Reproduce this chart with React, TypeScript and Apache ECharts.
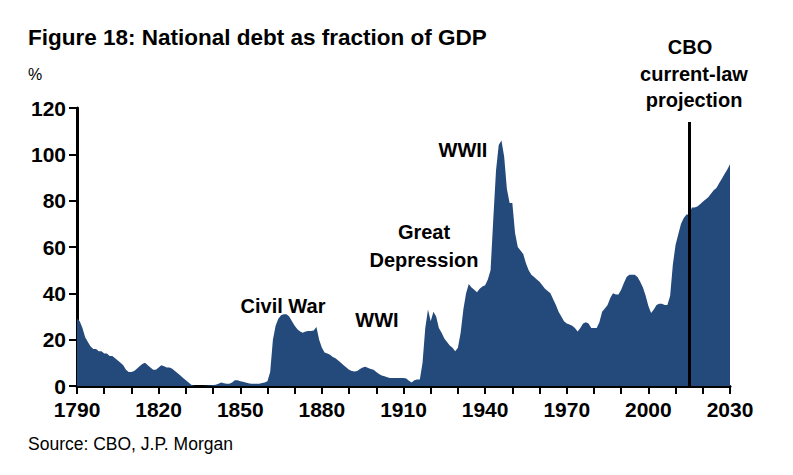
import React, { useEffect, useRef } from "react";
import * as echarts from "echarts";

const startYear = 1790;
const debtValues: number[] = [
  // 1790-1799
  29, 28, 25, 21, 19, 17, 16, 16, 15, 15,
  // 1800-1809
  14, 14, 13, 13, 12, 11, 10, 9, 7, 6,
  // 1810-1819
  6, 6.5, 7.5, 8.5, 9.5, 10, 9, 8, 7, 7,
  // 1820-1829
  8, 9, 8.5, 8, 8, 7.5, 6.5, 5.5, 4.5, 3.5,
  // 1830-1839
  2.5, 1.5, 0.5, 0.1, 0, 0, 0, 0.1, 0.2, 0.3,
  // 1840-1849
  0.4, 0.5, 1, 1.5, 1.2, 1, 1, 1.5, 2.5, 2.5,
  // 1850-1859
  2, 1.8, 1.5, 1.2, 1, 1, 1, 1, 1.3, 1.5,
  // 1860-1869
  2, 6, 20, 26, 29, 30.5, 31, 31, 30, 28,
  // 1870-1879
  26, 24.5, 23.5, 23, 23.5, 23.7, 23.7, 24, 25.5, 20,
  // 1880-1889
  16.5, 14.5, 14, 13.5, 12.5, 12, 11, 10, 9, 8,
  // 1890-1899
  7, 6.5, 6.3, 6.5, 7.3, 8, 8.3, 7.8, 7.3, 7,
  // 1900-1909
  6, 5.2, 4.5, 4.2, 3.8, 3.5, 3.4, 3.4, 3.4, 3.4,
  // 1910-1919
  3.4, 3.2, 2.3, 1.5, 2.5, 2.8, 2.8, 10, 25, 33,
  // 1920-1929
  28, 32, 30, 25, 23, 20.5, 19, 17.5, 16.5, 15,
  // 1930-1939
  16.5, 23, 33, 40, 44, 42.5, 41.5, 40.5, 42, 43,
  // 1940-1949
  43.5, 46, 50, 72, 93, 104, 106, 99, 85, 79,
  // 1950-1959
  79, 66, 60, 58.5, 57, 53, 50, 48, 47, 46,
  // 1960-1969
  45, 43.5, 42, 41, 40, 37.5, 35, 32, 30, 28,
  // 1970-1979
  27, 26.5, 26, 25, 23.5, 25, 27, 27.5, 27, 25,
  // 1980-1989
  25, 25, 27.5, 32, 33.5, 35, 38, 40, 39.5, 39.5,
  // 1990-1999
  41.5, 44.5, 47, 48, 48, 48, 47, 45, 42.5, 39,
  // 2000-2009
  34.5, 31.5, 33, 35, 35.5, 35.5, 35, 35, 39, 52.5,
  // 2010-2019
  61, 65.5, 70, 72.5, 74, 74, 77, 77, 77.5, 78.5,
  // 2020-2030
  79.5, 80.5, 81.5, 83, 84.5, 85.5, 87.5, 89.5, 91.5, 93.5, 95.7,
];
const projectionYear = 2015;
const yTicks = [0, 20, 40, 60, 80, 100, 120];
const xLabelYears = [1790, 1820, 1850, 1880, 1910, 1940, 1970, 2000, 2030];
const annotations = [
  { text: "Civil War", x: 283, y: 306 },
  { text: "WWI", x: 377, y: 320 },
  { text: "Great", x: 424, y: 232 },
  { text: "Depression", x: 424, y: 260 },
  { text: "WWII", x: 463, y: 150 },
  { text: "CBO", x: 690, y: 47 },
  { text: "current-law", x: 694, y: 74 },
  { text: "projection", x: 694, y: 100 },
];

export default function App() {
  const ref = useRef<HTMLDivElement>(null);
  useEffect(() => {
    if (!ref.current) return;
    const chart = echarts.init(ref.current, null, { renderer: "svg" });
    const seriesData = debtValues.map((v, i) => [startYear + i, v]);
    const font = "'Liberation Sans', Arial, sans-serif";
    chart.setOption({
      animation: false,
      backgroundColor: "#ffffff",
      textStyle: { fontFamily: font },
      grid: { left: 77, right: 63, top: 108, bottom: 89, containLabel: false },
      xAxis: {
        type: "value",
        min: 1790,
        max: 2030,
        interval: 10,
        axisLine: { show: true, lineStyle: { color: "#000", width: 3 } },
        axisTick: { show: true, inside: false, length: 8, lineStyle: { color: "#000", width: 2 } },
        splitLine: { show: false },
        axisLabel: {
          margin: 13,
          color: "#000",
          fontWeight: "bold",
          fontSize: 21,
          fontFamily: font,
          formatter: (v: number) => (xLabelYears.includes(v) ? String(v) : ""),
        },
      },
      yAxis: {
        type: "value",
        min: 0,
        max: 120,
        interval: 20,
        axisLine: { show: true, lineStyle: { color: "#000", width: 3 } },
        axisTick: { show: true, inside: false, length: 8, lineStyle: { color: "#000", width: 2 } },
        splitLine: { show: false },
        axisLabel: {
          margin: 11,
          color: "#000",
          fontWeight: "bold",
          fontSize: 21,
          fontFamily: font,
          formatter: (v: number) => (yTicks.includes(v) ? String(v) : ""),
        },
      },
      series: [
        {
          type: "line",
          data: seriesData,
          showSymbol: false,
          symbol: "none",
          lineStyle: { width: 0, color: "#24497B" },
          itemStyle: { color: "#24497B" },
          areaStyle: { color: "#24497B", opacity: 1 },
          z: 1,
          markLine: {
            silent: true,
            symbol: ["none", "none"],
            label: { show: false },
            lineStyle: { color: "#000", width: 3, type: "solid" },
            data: [[{ coord: [projectionYear, 0] }, { coord: [projectionYear, 114] }]],
          },
        },
      ],
      graphic: [
        {
          type: "text",
          x: 28,
          y: 37.5,
          style: {
            text: "Figure 18: National debt as fraction of GDP",
            fill: "#000",
            font: `bold 22.5px ${font}`,
            textVerticalAlign: "middle",
          },
        },
        {
          type: "text",
          x: 28,
          y: 74,
          style: { text: "%", fill: "#000", font: `16px ${font}`, textVerticalAlign: "middle" },
        },
        {
          type: "text",
          x: 28,
          y: 444,
          style: {
            text: "Source: CBO, J.P. Morgan",
            fill: "#000",
            font: `17.5px ${font}`,
            textVerticalAlign: "middle",
          },
        },
        ...annotations.map((a) => ({
          type: "text",
          x: a.x,
          y: a.y,
          style: {
            text: a.text,
            fill: "#000",
            font: `bold 20px ${font}`,
            textAlign: "center",
            textVerticalAlign: "middle",
          },
        })),
      ],
    });
    return () => chart.dispose();
  }, []);
  return (
    <div
      ref={ref}
      style={{ position: "absolute", left: 0, top: 0, width: 793, height: 475 }}
    />
  );
}
